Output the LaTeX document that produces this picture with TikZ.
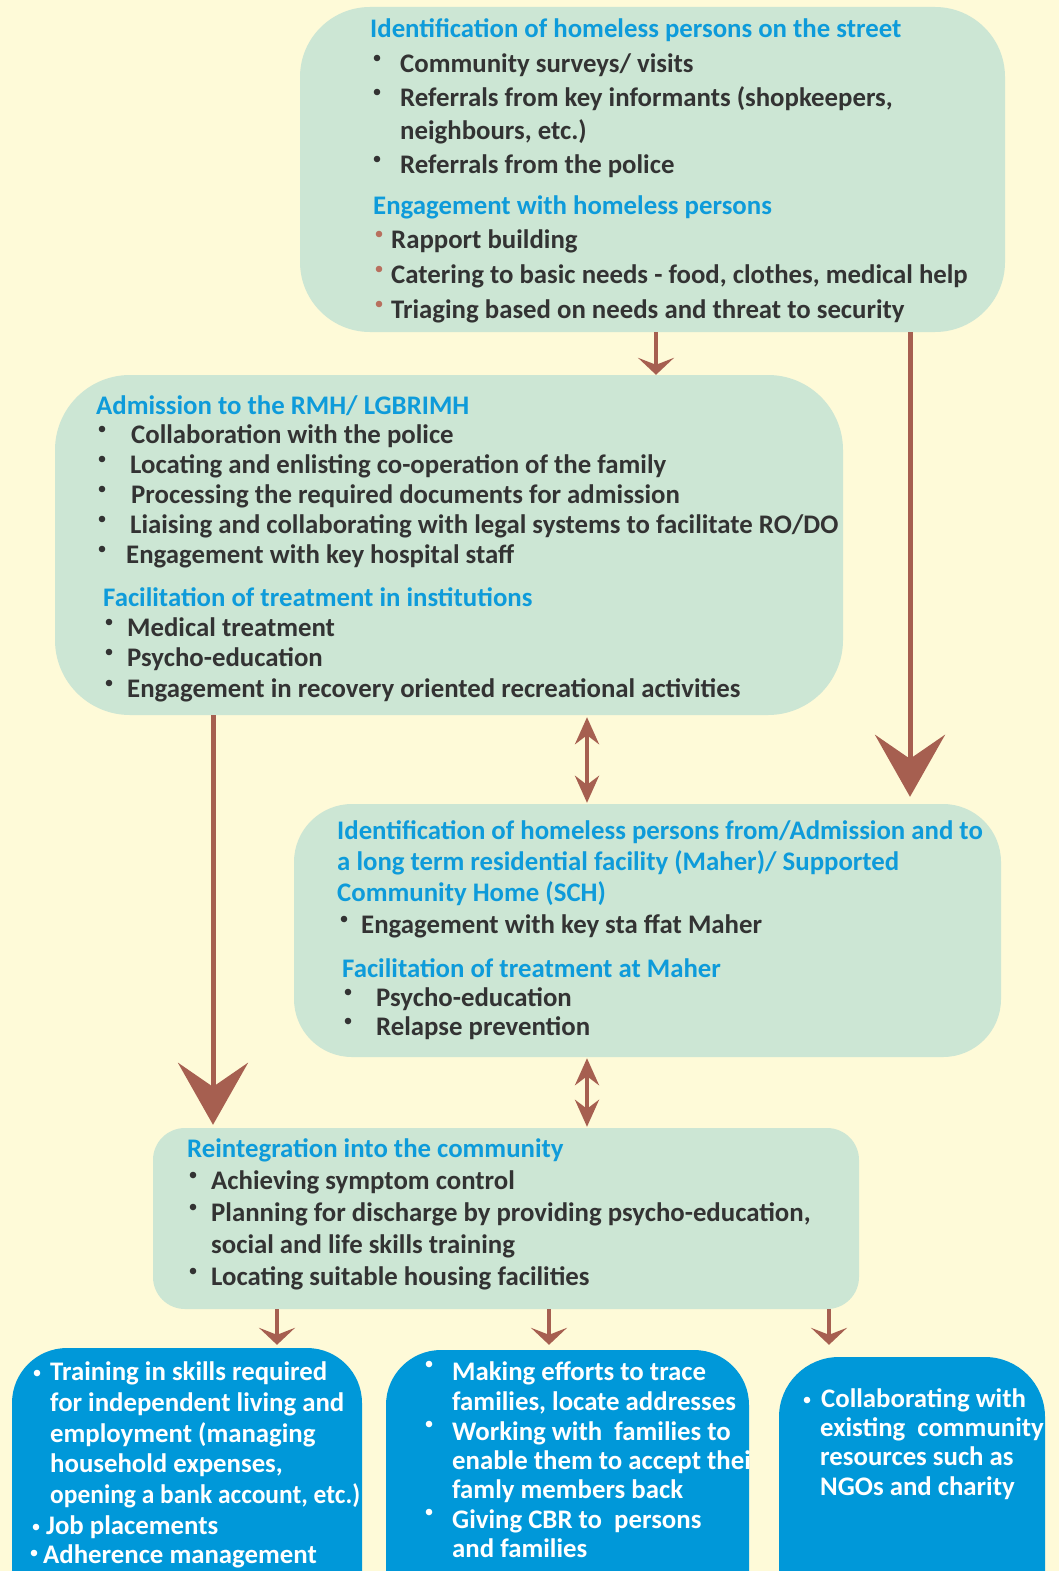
\documentclass[tikz,border=0pt]{standalone}
\usepackage{fontspec}
\setmainfont{Carlito}
\newfontfamily\narrowfont{Carlito}[FakeStretch=0.95]
\usetikzlibrary{arrows.meta}
\definecolor{bg}{HTML}{FEFAD8}
\definecolor{boxgreen}{HTML}{CCE6D4}
\definecolor{titleblue}{HTML}{0E9BDA}
\definecolor{bodygray}{HTML}{333333}
\definecolor{arrowbrown}{HTML}{A65F50}
\definecolor{boxblue}{HTML}{0098D9}
\definecolor{bulletbrown}{HTML}{B8705E}
\newcommand\ttl[4]{\node[ttlstyle] (#1) at (#2,#3) {#4};}
\newcommand\itm[4]{\node[itmstyle] (#1) at (#2,#3) {#4};}
\newcommand\witm[4]{\node[witmstyle] (#1) at (#2,#3) {#4};}
\newcommand\bdot[3]{\fill[#1] (#2,#3) circle (3.3pt);}
\begin{document}
\begin{tikzpicture}[x=1pt,y=-1pt,
  greenbox/.style={fill=boxgreen, draw=none, rectangle, inner sep=0pt},
  bluebox/.style={fill=boxblue, draw=none, rectangle, inner sep=0pt},
  ttlstyle/.style={anchor=base west, inner sep=0pt, text=titleblue, font=\fontsize{26.8}{34}\selectfont\bfseries},
  itmstyle/.style={anchor=base west, inner sep=0pt, text=bodygray, font=\fontsize{26.8}{34}\selectfont\bfseries},
  witmstyle/.style={anchor=base west, inner sep=0pt, text=white, font=\fontsize{26.8}{34}\selectfont\bfseries},
  smallarrow/.style={draw=arrowbrown, line width=4pt, -{Stealth[length=17pt, width=36pt, inset=7pt]}},
  twoway/.style={draw=arrowbrown, line width=4pt, {Stealth[length=27pt, width=24pt, inset=9pt]}-{Stealth[length=27pt, width=24pt, inset=9pt]}},
  bigarrow/.style={draw=arrowbrown, line width=5pt, -{Stealth[length=62pt, width=70pt, inset=24pt]}}
]
\useasboundingbox (0,0) rectangle (1059,1571);
\clip (0,0) rectangle (1059,1571);
\fill[bg] (0,0) rectangle (1059,1571);

% stage boxes
\node[greenbox, rounded corners=70pt, minimum width=705pt, minimum height=325pt] (b1) at (652.5,169.5) {};
\node[greenbox, rounded corners=75pt, minimum width=788pt, minimum height=340pt] (b2) at (449,545) {};
\node[greenbox, rounded corners=58pt, minimum width=707pt, minimum height=253pt] (b3) at (647.5,930.5) {};
\node[greenbox, rounded corners=32pt, minimum width=706pt, minimum height=181pt] (b4) at (506,1218.5) {};
\node[bluebox, rounded corners=55pt, minimum width=350pt, minimum height=292pt] (bb1) at (187,1494) {};
\node[bluebox, rounded corners=55pt, minimum width=363pt, minimum height=290pt] (bb2) at (567.5,1495) {};
\node[bluebox, rounded corners=60pt, minimum width=266pt, minimum height=283pt] (bb3) at (912,1498.5) {};

% arrow columns
\coordinate (cA) at (656,0);
\coordinate (cB) at (910,0);
\coordinate (cL) at (213,0);
\coordinate (cC) at (587,0);
\coordinate (cD1) at (277,0);
\coordinate (cD2) at (549,0);
\coordinate (cD3) at (829,0);

\draw[smallarrow] (b1.south -| cA) -- (b2.north -| cA);
\draw[bigarrow, shorten >=7pt] (b1.south -| cB) -- (b3.north -| cB);
\draw[bigarrow, shorten >=3pt] (b2.south -| cL) -- (b4.north -| cL);
\draw[twoway, shorten <=2pt, shorten >=1pt] (b2.south -| cC) -- (b3.north -| cC);
\draw[twoway, shorten <=1pt, shorten >=1pt] (b3.south -| cC) -- (b4.north -| cC);
\draw[smallarrow, shorten >=3pt] (b4.south -| cD1) -- (bb1.north -| cD1);
\draw[smallarrow, shorten >=5pt] (b4.south -| cD2) -- (bb2.north -| cD2);
\draw[smallarrow, shorten >=12pt] (b4.south -| cD3) -- (bb3.north -| cD3);

% street identification and engagement
\ttl{t1}{370}{38}{Identification of homeless persons on the street}
\bdot{bodygray}{377}{58}\itm{t1a}{400}{72}{Community surveys/ visits}
\bdot{bodygray}{377}{92}\itm{t1b}{400}{106}{Referrals from key informants (shopkeepers,}
\itm{t1c}{400}{139}{neighbours, etc.)}
\bdot{bodygray}{377}{159}\itm{t1d}{400}{173}{Referrals from the police}
\ttl{t2}{373}{214}{Engagement with homeless persons}
\bdot{bulletbrown}{379}{234}\itm{t2a}{391}{248}{Rapport building}
\bdot{bulletbrown}{379}{269}\itm{t2b}{391}{283}{Catering to basic needs - food, clothes, medical help}
\bdot{bulletbrown}{379}{304}\itm{t2c}{391}{318}{Triaging based on needs and threat to security}

% admission and treatment
\ttl{t3}{96}{414}{Admission to the RMH/ LGBRIMH}
\bdot{bodygray}{102}{429}\itm{t3a}{131}{443}{Collaboration with the police}
\bdot{bodygray}{102}{459}\itm{t3b}{130}{473}{Locating and enlisting co-operation of the family}
\bdot{bodygray}{102}{489}\itm{t3c}{131}{503}{Processing the required documents for admission}
\bdot{bodygray}{102}{519}\itm{t3d}{130}{533}{Liaising and collaborating with legal systems to facilitate RO/DO}
\bdot{bodygray}{102}{549}\itm{t3e}{126}{563}{Engagement with key hospital staff}
\ttl{t4}{103}{606}{Facilitation of treatment in institutions}
\bdot{bodygray}{109}{622}\itm{t4a}{127}{636}{Medical treatment}
\bdot{bodygray}{109}{652}\itm{t4b}{127}{666}{Psycho-education}
\bdot{bodygray}{109}{683}\itm{t4c}{127}{697}{Engagement in recovery oriented recreational activities}

% long term residential facility
\ttl{t5}{337}{839}{Identification of homeless persons from/Admission and to}
\ttl{t5b}{337}{870}{a long term residential facility (Maher)/ Supported}
\ttl{t5c}{337}{901}{Community Home (SCH)}
\bdot{bodygray}{344}{919}\itm{t5d}{361}{933}{Engagement with key sta ffat Maher}
\ttl{t6}{342}{977}{Facilitation of treatment at Maher}
\bdot{bodygray}{348}{992}\itm{t6a}{376}{1006}{Psycho-education}
\bdot{bodygray}{348}{1021}\itm{t6b}{376}{1035}{Relapse prevention}

% reintegration
\ttl{t7}{187}{1157}{Reintegration into the community}
\bdot{bodygray}{193}{1175}\itm{t7a}{211}{1189}{Achieving symptom control}
\bdot{bodygray}{193}{1207}\itm{t7b}{211}{1221}{Planning for discharge by providing psycho-education,}
\itm{t7c}{211}{1253}{social and life skills training}
\bdot{bodygray}{193}{1271}\itm{t7d}{211}{1285}{Locating suitable housing facilities}

% outcomes
\bdot{white}{37}{1373}\witm{u1a}{50}{1380}{Training in skills required}
\witm{u1b}{50}{1411}{for independent living and}
\witm{u1c}{50}{1442}{employment (managing}
\witm{u1d}{50}{1472}{household expenses,}
\node[witmstyle, font=\narrowfont\fontsize{26.8}{34}\selectfont\bfseries] (u1e) at (50,1503) {opening a bank account, etc.)};
\bdot{white}{36}{1527}\witm{u1f}{46}{1534}{Job placements}
\bdot{white}{34}{1553}\witm{u1g}{43}{1563}{Adherence management}

\begin{scope}
\clip[rounded corners=55pt] (bb2.south west) rectangle (bb2.north east);
\bdot{white}{429}{1364}\witm{u2a}{452}{1380}{Making efforts to trace}
\witm{u2b}{452}{1410}{families, locate addresses}
\bdot{white}{429}{1424}\witm{u2c}{452}{1440}{Working with~ families to}
\witm{u2d}{452}{1469}{enable them to accept their}
\witm{u2e}{452}{1498}{famly members back}
\bdot{white}{429}{1512}\witm{u2f}{452}{1528}{Giving CBR to~ persons}
\witm{u2g}{452}{1557}{and families}
\end{scope}

\bdot{white}{807}{1400}\witm{u3a}{821}{1407}{Collaborating with}
\witm{u3b}{820}{1436}{existing~ community}
\witm{u3c}{820}{1465}{resources such as}
\witm{u3d}{820}{1495}{NGOs and charity}
\end{tikzpicture}
\end{document}
